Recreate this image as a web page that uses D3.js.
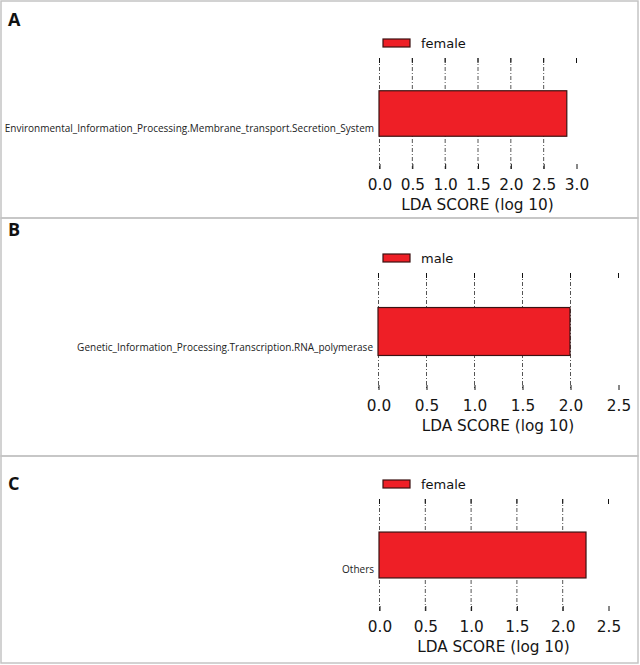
<!DOCTYPE html>
<html>
<head>
<meta charset="utf-8">
<script src="https://cdn.jsdelivr.net/npm/d3@7"></script>
<style>
  html, body { margin: 0; padding: 0; background: #fff; }
  svg { display: block; }
</style>
</head>
<body>
<svg id="chart" width="640" height="665"></svg>
<script>
// ---- data ----
const panelLetters = ["A", "B", "C"];
const categories = [
  "Environmental_Information_Processing.Membrane_transport.Secretion_System",
  "Genetic_Information_Processing.Transcription.RNA_polymerase",
  "Others"
];
const ldaScores = [2.86, 2.0, 2.26];
const classes = ["female", "male", "female"];
const tickValuesA = [0.0, 0.5, 1.0, 1.5, 2.0, 2.5, 3.0];
const tickValuesB = [0.0, 0.5, 1.0, 1.5, 2.0, 2.5];
const tickValuesC = [0.0, 0.5, 1.0, 1.5, 2.0, 2.5];
const tickSets = [tickValuesA, tickValuesB, tickValuesC];
const axisTitle = "LDA SCORE (log 10)";

// ---- layout (positions only) ----
const layout = [
  { boxTop: 1,   boxBottom: 218, letterY: 26,  legendY: 43,  axTop: 58,  axBottom: 169, x0: 379, x1: 576 },
  { boxTop: 218, boxBottom: 456, letterY: 236, legendY: 258, axTop: 273, axBottom: 390, x0: 378, x1: 618 },
  { boxTop: 456, boxBottom: 663, letterY: 490, legendY: 484, axTop: 499, axBottom: 611, x0: 379, x1: 608 }
];

const barColor = "#ee1f26";
const barStroke = "#3b1212";
const svg = d3.select("#chart");

layout.forEach((L, i) => {
  const g = svg.append("g");
  // panel frame
  g.append("rect")
    .attr("x", 1).attr("y", L.boxTop)
    .attr("width", 637).attr("height", L.boxBottom - L.boxTop)
    .attr("fill", "none").attr("stroke", "#c4c4c4").attr("stroke-width", 1.5);

  // panel letter
  g.append("text")
    .attr("x", 8).attr("y", L.letterY)
    .attr("font-family", "'Open Sans', 'DejaVu Sans', sans-serif")
    .attr("font-weight", "bold").attr("font-size", 18)
    .attr("fill", "#111")
    .text(panelLetters[i]);

  const ticks = tickSets[i];
  const x = d3.scaleLinear().domain([0, d3.max(ticks)]).range([L.x0, L.x1]);
  const y = d3.scaleBand().domain([categories[i]]).range([L.axTop, L.axBottom])
    .paddingInner(0).paddingOuter(0.72);

  // grid lines (dash-dot), not at the last tick
  g.selectAll(".grid").data(ticks.slice(0, -1)).enter().append("line")
    .attr("x1", d => x(d) + 0.5).attr("x2", d => x(d) + 0.5)
    .attr("y1", L.axTop).attr("y2", L.axBottom)
    .attr("stroke", "#555").attr("stroke-width", 1)
    .attr("stroke-dasharray", "4,2,1,2");

  // bar
  g.append("rect")
    .attr("x", x(0))
    .attr("y", y(categories[i]))
    .attr("width", x(ldaScores[i]) - x(0))
    .attr("height", y.bandwidth())
    .attr("fill", barColor).attr("stroke", barStroke).attr("stroke-width", 1.2);

  // top ticks
  g.selectAll(".ttop").data(ticks).enter().append("line")
    .attr("x1", d => x(d) + 0.5).attr("x2", d => x(d) + 0.5)
    .attr("y1", L.axTop).attr("y2", L.axTop + 5)
    .attr("stroke", "#111").attr("stroke-width", 1);
  // bottom axis via d3.axisBottom (ticks point inward)
  const axis = d3.axisBottom(x).tickValues(ticks).tickFormat(d3.format(".1f"))
    .tickSizeInner(-5).tickSizeOuter(0).tickPadding(10);
  const ag = g.append("g").attr("transform", `translate(0.5,${L.axBottom})`).call(axis);
  ag.select(".domain").remove();
  ag.selectAll(".tick line").attr("stroke", "#111");
  ag.selectAll(".tick text")
    .attr("font-family", "'DejaVu Sans', sans-serif").attr("font-size", 15.3)
    .attr("fill", "#151515");

  // axis title
  g.append("text")
    .attr("x", (L.x0 + L.x1) / 2).attr("y", L.axBottom + 41)
    .attr("text-anchor", "middle")
    .attr("font-family", "'DejaVu Sans', sans-serif").attr("font-size", 15.3)
    .attr("fill", "#151515")
    .text(axisTitle);

  // category label
  g.append("text")
    .attr("x", L.x0 - 5)
    .attr("y", y(categories[i]) + y.bandwidth() - 8)
    .attr("dy", "0.35em")
    .attr("text-anchor", "end")
    .attr("font-family", "'Open Sans', sans-serif").attr("font-size", 10)
    .attr("fill", "#222")
    .text(categories[i]);

  // legend
  g.append("rect")
    .attr("x", 383).attr("y", L.legendY - 4)
    .attr("width", 27).attr("height", 8)
    .attr("fill", barColor).attr("stroke", barStroke).attr("stroke-width", 1.2);
  g.append("text")
    .attr("x", 421).attr("y", L.legendY)
    .attr("dy", "0.35em")
    .attr("font-family", "'DejaVu Sans', sans-serif").attr("font-size", 13)
    .attr("fill", "#111")
    .text(classes[i]);
});
</script>
</body>
</html>
